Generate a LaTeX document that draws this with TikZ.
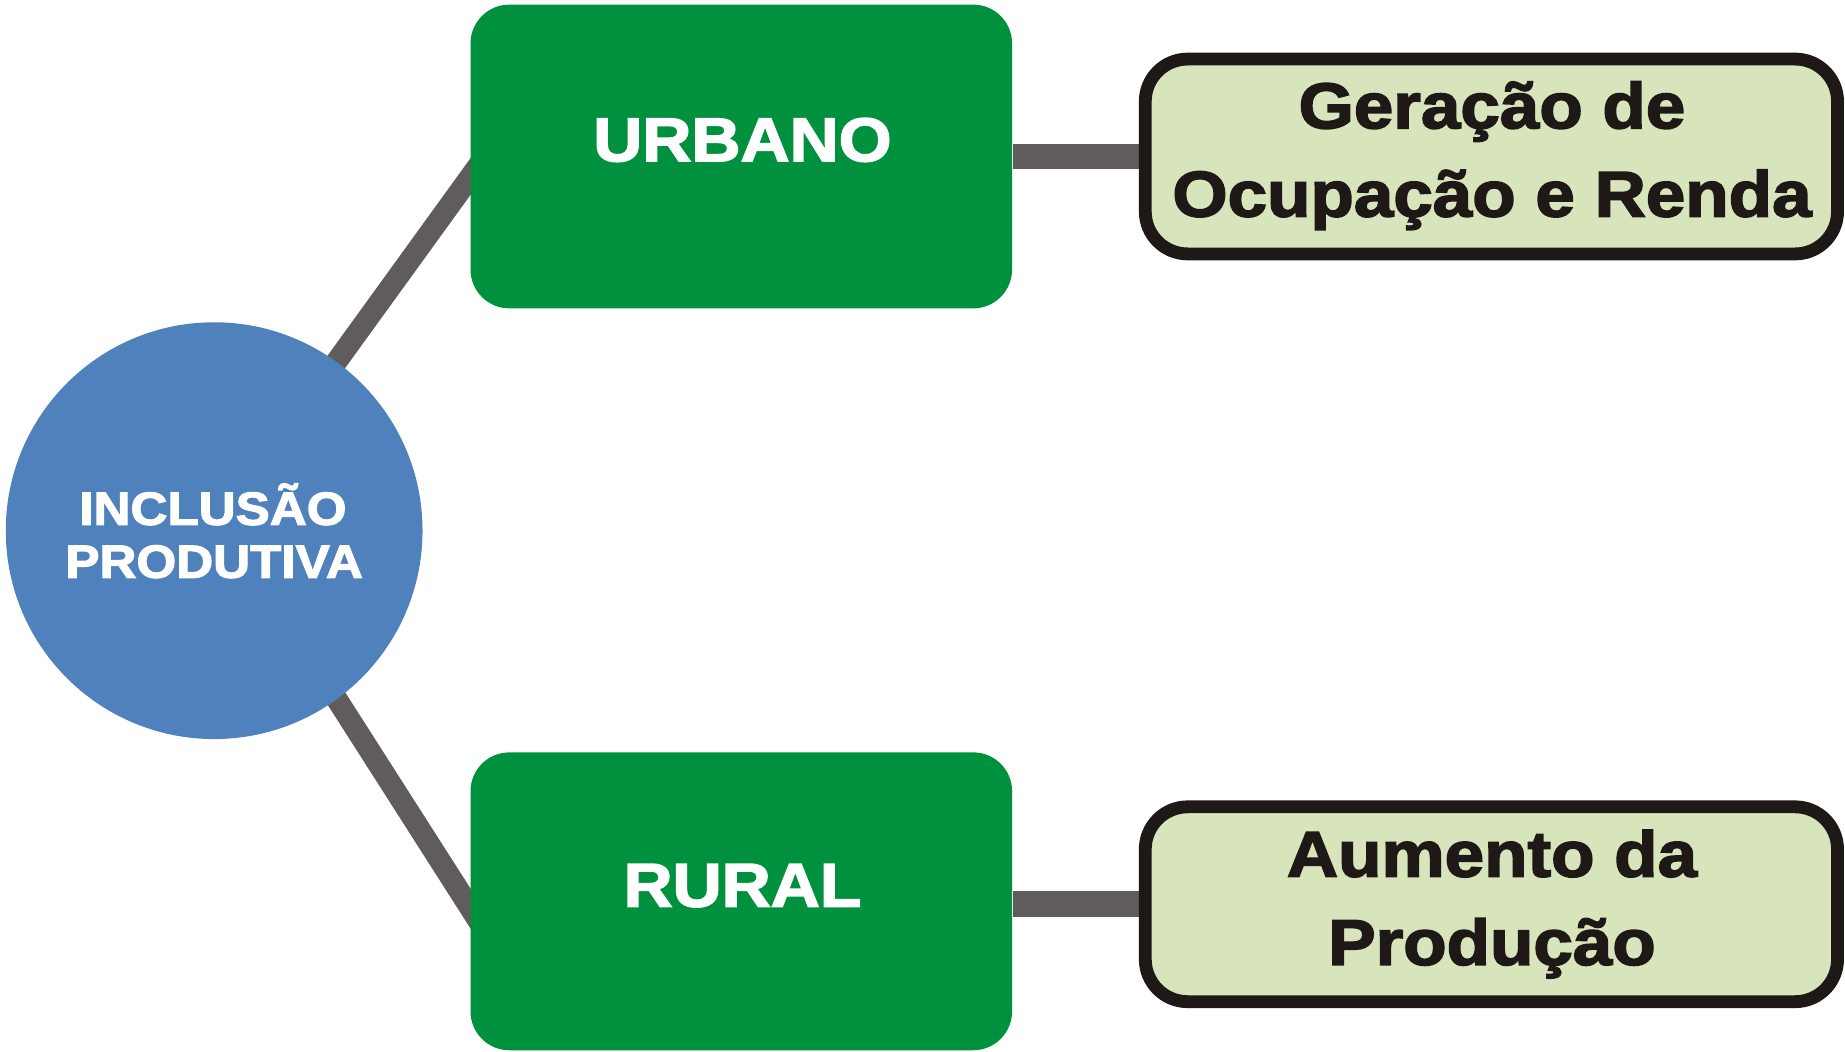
\documentclass[tikz,border=0pt]{standalone}
\usepackage{fontspec}
\setmainfont{Liberation Sans}
\newfontfamily\heavy[FakeStretch=1.1,FakeBold=2.5]{Liberation Sans Bold}
\usetikzlibrary{backgrounds}
\definecolor{boxgreen}{HTML}{00913F}
\definecolor{linkgray}{HTML}{605C5B}
\definecolor{palegreen}{HTML}{D8E4BC}
\definecolor{inkdark}{HTML}{1E1916}
\definecolor{blob}{HTML}{4F81BD}
\tikzset{
  greenbox/.style={rectangle, rounded corners=0.33cm, fill=boxgreen, draw=none,
    minimum width=4.6cm, inner sep=0},
  palebox/.style={rectangle, rounded corners=0.36cm, fill=palegreen, draw=inkdark,
    line width=3.1pt, minimum width=5.88cm, minimum height=1.655cm, inner sep=0},
  hub/.style={circle, fill=blob, draw=none, minimum size=3.54cm, inner sep=0},
  bigwhite/.style={anchor=base, inner sep=0, text=white, font=\heavy\fontsize{14.94}{18}\selectfont},
  bigdark/.style={anchor=base, inner sep=0, text=inkdark, font=\heavy\fontsize{15.6}{18}\selectfont},
  smallwhite/.style={anchor=base, inner sep=0, text=white, font=\heavy\fontsize{11.24}{13}\selectfont},
  diaglink/.style={draw=linkgray, line width=5.2pt},
  flatlink/.style={draw=linkgray, line width=6.2pt},
}
\begin{document}
\begin{tikzpicture}[x=0.01cm, y=-0.01cm]
\useasboundingbox (0,0) rectangle (1568,894);
% nodes
\node[hub] (c) at (182,451) {};
\node[greenbox, minimum height=2.58cm] (u) at (630,133) {};
\node[greenbox, minimum height=2.53cm] (r) at (630,766) {};
\node[palebox] (g) at (1267.5,133) {};
\node[palebox] (a) at (1267.5,768.5) {};
% texts
\node[smallwhite] (t1) at (181,446) {INCLUSÃO};
\node[smallwhite] (t2) at (182,491) {PRODUTIVA};
\node[bigwhite] (t3) at (631,137) {URBANO};
\node[bigwhite] (t4) at (631,770.5) {RURAL};
\node[bigdark] (t5) at (1268,109) {Geração de};
\node[bigdark] (t6) at (1268,184) {Ocupação e Renda};
\node[bigdark] (t7) at (1268,745) {Aumento da};
\node[bigdark] (t8) at (1268,820) {Produção};
% connectors
\begin{pgfonlayer}{background}
\draw[diaglink, shorten >=-0.25cm] (c.center) -- ([yshift=-0.18cm]u.west);
\draw[diaglink, shorten >=-0.25cm] ([yshift=0.2cm]c.center) -- ([yshift=-0.05cm]r.west);
\draw[flatlink] (u.east) -- (g.west);
\draw[flatlink] (r.east |- a.west) -- (a.west);
\end{pgfonlayer}
\end{tikzpicture}
\end{document}
